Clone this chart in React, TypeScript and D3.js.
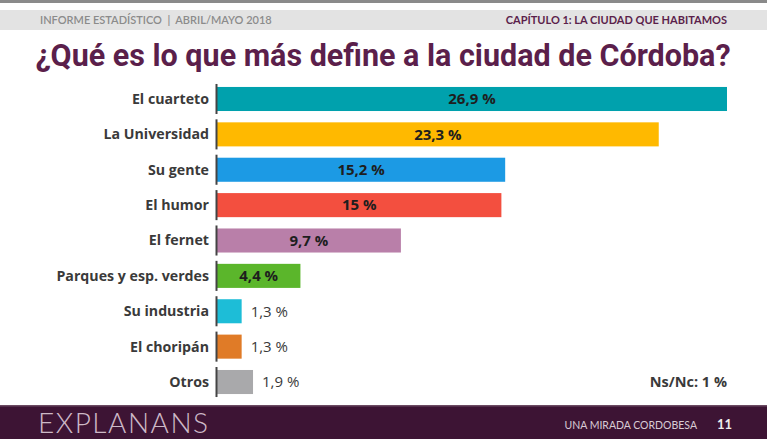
import * as d3 from "d3"

const categories = [
  "El cuarteto",
  "La Universidad",
  "Su gente",
  "El humor",
  "El fernet",
  "Parques y esp. verdes",
  "Su industria",
  "El choripán",
  "Otros",
]
const values = [26.9, 23.3, 15.2, 15, 9.7, 4.4, 1.3, 1.3, 1.9]
const valueLabels = ["26,9 %", "23,3 %", "15,2 %", "15 %", "9,7 %", "4,4 %", "1,3 %", "1,3 %", "1,9 %"]
const colors = ["#00a1ad", "#ffb900", "#1c9ae4", "#f34f3f", "#b97fa9", "#5bb62b", "#1dbdd7", "#e07b27", "#a9a9ab"]

const W = 767
const H = 439
const purple = "#5b1f4b"
const labelFont = "'Open Sans', sans-serif"

export default function App() {
  const x = d3.scaleLinear().domain([0, 26.9]).range([217, 727])
  const y = d3
    .scaleBand<string>()
    .domain(categories)
    .range([81.3, 399.7])
    .paddingInner(0.32)
    .paddingOuter(0.16)
  const bw = y.bandwidth()

  return (
    <svg width={W} height={H} style={{ position: "absolute", left: 0, top: 0 }} fontFamily="Lato, 'Open Sans', sans-serif">
      <rect width={W} height={H} fill="#fff" />
      {/* header */}
      <rect x={0} y={0} width={W} height={3} fill="#8a8a8a" />
      <rect x={0} y={10} width={W} height={20} fill="#e3e3e3" />
      <text x={40} y={24} fontSize={11} fill="#8b8b8b" fontWeight={600} style={{ whiteSpace: "pre" }}>
        {"INFORME ESTADÍSTICO  |  ABRIL/MAYO 2018"}
      </text>
      <text x={727} y={24} fontSize={11} fill={purple} fontWeight={700} textAnchor="end">
        CAPÍTULO 1: LA CIUDAD QUE HABITAMOS
      </text>
      <text x={383} y={66} fontSize={30.5} fill={purple} fontWeight={700} textAnchor="middle" fontFamily="Roboto, sans-serif">
        ¿Qué es lo que más define a la ciudad de Córdoba?
      </text>

      {/* bars */}
      {categories.map((c, i) => {
        const y0 = y(c) ?? 0
        const inside = values[i] > 3
        const xEnd = x(values[i])
        return (
          <g key={c}>
            <rect x={x(0)} y={y0} width={xEnd - x(0)} height={bw} fill={colors[i]} />
            <line x1={x(0) - 0.5} x2={x(0) - 0.5} y1={y0 - 3} y2={y0 + bw + 3} stroke="#444" strokeWidth={2} />
            <text x={x(0) - 8} y={y0 + bw / 2} dy="0.35em" textAnchor="end" fontSize={14.2} fontWeight={700} fill="#3a3a3a" fontFamily={labelFont}>
              {c}
            </text>
            <text
              x={inside ? (x(0) + xEnd) / 2 : xEnd + 9}
              y={y0 + bw / 2}
              dy="0.35em"
              textAnchor={inside ? "middle" : "start"}
              fontSize={15}
              fontWeight={inside ? 700 : 400}
              fill={inside ? "#1e1e1e" : "#3a3a3a"}
              fontFamily={labelFont}
            >
              {valueLabels[i]}
            </text>
          </g>
        )
      })}
      <text x={727} y={(y("Otros") ?? 0) + bw / 2} dy="0.35em" textAnchor="end" fontSize={14.5} fontWeight={700} fill="#3a3a3a" fontFamily={labelFont}>
        Ns/Nc: 1 %
      </text>

      {/* footer */}
      <rect x={0} y={406} width={W} height={33} fill="#3d1434" />
      <rect x={0} y={405} width={W} height={1.5} fill="#6b4a62" />
      <text x={38} y={433} fontSize={28} fontWeight={300} fill="#cdb9c7" letterSpacing={1.5}>
        EXPLANANS
      </text>
      <text x={697} y={429} fontSize={10.5} fill="#d9cbd4" textAnchor="end" fontWeight={400}>
        UNA MIRADA CORDOBESA
      </text>
      <text x={717} y={429} fontSize={13} fill="#eee" fontWeight={700}>
        11
      </text>
    </svg>
  )
}
